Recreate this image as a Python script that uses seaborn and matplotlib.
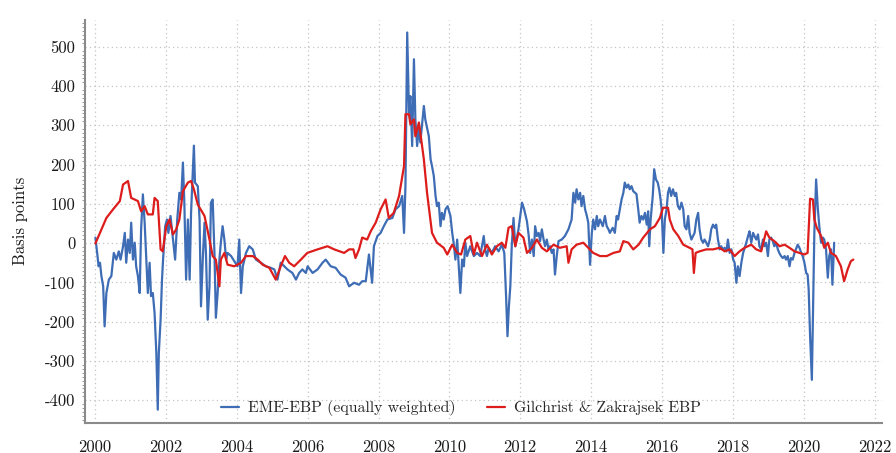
import matplotlib
matplotlib.use("Agg")
import matplotlib.pyplot as plt
import seaborn as sns
import pandas as pd
from matplotlib.ticker import MultipleLocator

# Gilchrist & Zakrajsek EBP (basis points)
red_year = [2000.01, 2000.18, 2000.32, 2000.51, 2000.70, 2000.79, 2000.93, 2001.02, 2001.21, 2001.30,
            2001.40, 2001.49, 2001.63, 2001.68, 2001.77, 2001.85, 2001.91, 2002.01, 2002.10, 2002.20,
            2002.29, 2002.38, 2002.48, 2002.62, 2002.71, 2002.79, 2002.90, 2003.09, 2003.23, 2003.32,
            2003.41, 2003.51, 2003.55, 2003.65, 2003.74, 2003.93, 2004.12, 2004.26, 2004.45, 2004.59,
            2004.73, 2004.92, 2005.10, 2005.24, 2005.36, 2005.48, 2005.62, 2005.81, 2005.99, 2006.28,
            2006.56, 2006.75, 2007.03, 2007.17, 2007.29, 2007.35, 2007.45, 2007.54, 2007.68, 2007.78,
            2007.92, 2008.06, 2008.20, 2008.29, 2008.43, 2008.58, 2008.72, 2008.76, 2008.86, 2008.90,
            2009.00, 2009.04, 2009.14, 2009.18, 2009.28, 2009.37, 2009.51, 2009.65, 2009.84, 2009.94,
            2010.08, 2010.22, 2010.33, 2010.45, 2010.59, 2010.69, 2010.78, 2010.92, 2011.06, 2011.20,
            2011.34, 2011.48, 2011.58, 2011.67, 2011.76, 2011.86, 2011.95, 2012.09, 2012.19, 2012.33,
            2012.47, 2012.61, 2012.75, 2012.94, 2013.12, 2013.31, 2013.36, 2013.45, 2013.59, 2013.78,
            2013.92, 2014.06, 2014.25, 2014.44, 2014.63, 2014.81, 2014.91, 2015.05, 2015.19, 2015.34,
            2015.47, 2015.66, 2015.80, 2015.94, 2016.03, 2016.17, 2016.22, 2016.32, 2016.46, 2016.60,
            2016.78, 2016.86, 2016.90, 2016.95, 2017.06, 2017.25, 2017.44, 2017.63, 2017.77, 2017.91,
            2018.05, 2018.19, 2018.33, 2018.52, 2018.66, 2018.80, 2018.94, 2019.03, 2019.17, 2019.32,
            2019.46, 2019.60, 2019.74, 2019.88, 2020.02, 2020.11, 2020.18, 2020.26, 2020.30, 2020.37,
            2020.49, 2020.58, 2020.68, 2020.77, 2020.91, 2021.05, 2021.14, 2021.24, 2021.33, 2021.40]
red_bp = [-1, 35, 64, 86, 107, 149, 158, 115, 107, 81,
          94, 73, 73, 115, 107, -16, -21, 43, 60, 22,
          35, 60, 132, 154, 158, 137, 98, 69, 9, -33,
          -42, -110, -42, -25, -55, -59, -50, -33, -33, -42,
          -55, -63, -93, -59, -33, -50, -59, -42, -25, -16,
          -8, -16, -25, -16, -16, -38, -16, 14, 9, 30,
          52, 86, 111, 64, 77, 120, 196, 328, 328, 302,
          315, 272, 307, 281, 213, 128, 26, 1, -12, -29,
          -4, -25, -29, 9, 18, -29, 1, -33, -4, -29,
          -8, 1, -12, 39, 43, -8, 26, 14, -25, -12,
          9, -12, -21, -4, -12, -8, -50, -16, -4, 1,
          -12, -25, -33, -33, -25, -21, 5, 1, -16, -4,
          14, 35, 43, 64, 90, 90, 60, 35, 18, -4,
          -12, -16, -76, -25, -21, -16, -16, -12, -21, -16,
          -33, -21, -12, -4, -16, -21, 30, 14, 5, -8,
          -4, -12, -21, -25, -29, -25, 113, 111, 60, 39,
          18, -12, 1, -25, -33, -59, -97, -67, -46, -42]

# EME-EBP (equally weighted)
blue_year = [2000.01, 2000.06, 2000.10, 2000.14, 2000.18, 2000.23, 2000.27, 2000.32, 2000.39, 2000.46,
             2000.53, 2000.60, 2000.67, 2000.72, 2000.79, 2000.84, 2000.88, 2000.93, 2000.98, 2001.02,
             2001.07, 2001.12, 2001.16, 2001.21, 2001.26, 2001.30, 2001.35, 2001.40, 2001.44, 2001.49,
             2001.54, 2001.58, 2001.63, 2001.68, 2001.73, 2001.77, 2001.80, 2001.85, 2001.89, 2001.92,
             2001.98, 2002.03, 2002.07, 2002.13, 2002.20, 2002.26, 2002.32, 2002.38, 2002.43, 2002.48,
             2002.52, 2002.57, 2002.62, 2002.67, 2002.71, 2002.79, 2002.82, 2002.90, 2002.95, 2002.99,
             2003.04, 2003.09, 2003.13, 2003.18, 2003.23, 2003.27, 2003.32, 2003.37, 2003.41, 2003.46,
             2003.51, 2003.55, 2003.60, 2003.65, 2003.70, 2003.74, 2003.84, 2003.93, 2004.02, 2004.07,
             2004.12, 2004.17, 2004.26, 2004.35, 2004.45, 2004.54, 2004.68, 2004.82, 2004.96, 2005.06,
             2005.15, 2005.24, 2005.34, 2005.43, 2005.57, 2005.67, 2005.76, 2005.85, 2005.95, 2006.00,
             2006.14, 2006.28, 2006.42, 2006.51, 2006.65, 2006.79, 2006.93, 2007.07, 2007.17, 2007.31,
             2007.45, 2007.54, 2007.64, 2007.73, 2007.82, 2007.87, 2007.97, 2008.06, 2008.15, 2008.25,
             2008.39, 2008.48, 2008.58, 2008.67, 2008.72, 2008.76, 2008.81, 2008.86, 2008.90, 2008.95,
             2009.00, 2009.04, 2009.09, 2009.14, 2009.18, 2009.28, 2009.32, 2009.42, 2009.47, 2009.51,
             2009.56, 2009.61, 2009.65, 2009.70, 2009.75, 2009.79, 2009.84, 2009.89, 2009.95, 2010.03,
             2010.08, 2010.12, 2010.17, 2010.22, 2010.31, 2010.36, 2010.41, 2010.45, 2010.50, 2010.59,
             2010.69, 2010.78, 2010.87, 2010.97, 2011.01, 2011.06, 2011.11, 2011.20, 2011.29, 2011.39,
             2011.48, 2011.55, 2011.60, 2011.64, 2011.68, 2011.72, 2011.76, 2011.81, 2011.86, 2011.95,
             2012.05, 2012.11, 2012.19, 2012.24, 2012.28, 2012.33, 2012.38, 2012.42, 2012.47, 2012.52,
             2012.56, 2012.61, 2012.66, 2012.70, 2012.75, 2012.80, 2012.84, 2012.89, 2012.94, 2012.98,
             2013.03, 2013.08, 2013.17, 2013.26, 2013.36, 2013.45, 2013.50, 2013.55, 2013.59, 2013.64,
             2013.69, 2013.73, 2013.78, 2013.83, 2013.88, 2013.92, 2013.97, 2014.02, 2014.06, 2014.11,
             2014.16, 2014.20, 2014.25, 2014.33, 2014.39, 2014.44, 2014.49, 2014.53, 2014.61, 2014.67,
             2014.72, 2014.76, 2014.81, 2014.86, 2014.91, 2014.95, 2015.00, 2015.05, 2015.09, 2015.14,
             2015.19, 2015.28, 2015.33, 2015.37, 2015.42, 2015.47, 2015.52, 2015.57, 2015.61, 2015.64,
             2015.68, 2015.74, 2015.78, 2015.83, 2015.88, 2015.92, 2015.96, 2015.99, 2016.04, 2016.08,
             2016.13, 2016.17, 2016.21, 2016.26, 2016.31, 2016.36, 2016.40, 2016.45, 2016.50, 2016.55,
             2016.60, 2016.64, 2016.69, 2016.74, 2016.78, 2016.83, 2016.92, 2016.97, 2017.02, 2017.06,
             2017.11, 2017.16, 2017.20, 2017.25, 2017.30, 2017.35, 2017.39, 2017.44, 2017.49, 2017.53,
             2017.58, 2017.63, 2017.67, 2017.72, 2017.77, 2017.82, 2017.86, 2017.91, 2017.96, 2018.01,
             2018.05, 2018.10, 2018.14, 2018.19, 2018.24, 2018.29, 2018.38, 2018.43, 2018.47, 2018.52,
             2018.57, 2018.61, 2018.66, 2018.71, 2018.75, 2018.80, 2018.85, 2018.89, 2018.94, 2018.99,
             2019.03, 2019.08, 2019.13, 2019.17, 2019.22, 2019.27, 2019.31, 2019.36, 2019.41, 2019.46,
             2019.50, 2019.55, 2019.60, 2019.64, 2019.69, 2019.74, 2019.78, 2019.83, 2019.88, 2019.93,
             2019.97, 2020.02, 2020.07, 2020.11, 2020.14, 2020.18, 2020.23, 2020.26, 2020.30, 2020.35,
             2020.40, 2020.44, 2020.49, 2020.54, 2020.58, 2020.63, 2020.68, 2020.72, 2020.77, 2020.81,
             2020.86]
blue_bp = [14, -25, -59, -50, -84, -110, -212, -127, -93, -84,
           -25, -42, -21, -42, -8, 26, -50, 9, -25, 52,
           -42, 1, -59, -84, -127, 35, 124, 52, -25, -127,
           -50, -135, -127, -178, -280, -424, -280, -195, -93, -42,
           43, 60, 26, 69, 9, -42, 60, 128, 111, 205,
           103, -93, 60, -93, 77, 248, 154, 145, 60, -161,
           -42, 52, -25, -195, -110, 103, 111, -25, -190, -127,
           -42, 1, 43, 9, -42, -25, -33, -46, -59, 9,
           -127, -59, -25, -8, -16, -42, -50, -59, -63, -67,
           -93, -50, -59, -67, -76, -93, -76, -67, -76, -59,
           -76, -67, -50, -42, -59, -63, -80, -88, -110, -101,
           -106, -97, -97, -29, -101, -8, 18, 26, 43, 60,
           64, 86, 94, 120, 26, 145, 536, 332, 374, 247,
           468, 315, 247, 298, 256, 349, 315, 272, 213, 196,
           171, 120, 94, 103, 43, 77, 60, 86, 94, 69,
           26, 1, -42, 9, -127, -42, -59, 1, -33, -8,
           -33, -25, -33, 18, -16, -33, -12, -25, -8, -21,
           -4, -25, -135, -237, -161, -110, -8, 64, -8, 35,
           103, 86, 55, 18, -25, 9, -33, 43, 18, 26,
           5, 35, 9, -8, 9, -16, -8, -25, -16, -80,
           -33, 5, 9, 18, 35, 60, 128, 103, 137, 111,
           128, 94, 120, 86, 69, 52, -55, 26, 60, 35,
           69, 43, 60, 43, 69, 43, 35, 26, 39, 26,
           69, 60, 86, 111, 128, 154, 141, 149, 137, 145,
           132, 125, 86, 52, 69, 60, 77, 47, 81, -8,
           60, 120, 188, 162, 154, 137, 111, 86, -25, 60,
           86, 128, 141, 120, 137, 120, 128, 94, 86, 103,
           86, 43, 35, 69, 26, 9, 26, 60, 77, 35,
           9, 1, 9, 1, -8, 9, 35, 47, 39, 47,
           9, -16, -8, -16, -12, -21, 9, -25, -16, -42,
           -50, -101, -59, -84, -50, -25, 1, 18, 30, 1,
           26, 18, 9, 22, -8, -16, 9, -8, 1, -33,
           9, 14, 5, -8, 1, -16, -25, -33, -38, -33,
           -42, -33, -59, -38, -42, -25, -16, -4, -12, -25,
           -33, -50, -76, -80, -118, -237, -348, -186, 26, 162,
           86, 43, 1, 14, 9, -16, -88, -33, -16, -106,
           1]

y_ticks = [-400, -300, -200, -100, 0, 100, 200, 300, 400, 500]
x_ticks = list(range(2000, 2023, 2))

blue_df = pd.DataFrame({"year": blue_year, "bp": blue_bp})
red_df = pd.DataFrame({"year": red_year, "bp": red_bp})

sns.set_style("white")
plt.rcParams['font.family'] = ['cmr10', 'DejaVu Serif']
plt.rcParams['axes.unicode_minus'] = False
plt.rcParams['axes.formatter.use_mathtext'] = True

fig = plt.figure(figsize=(8.96, 4.53), dpi=100)
ax = fig.add_axes([0.095, 0.067, 0.889, 0.889])

blue = '#3e6db5'
red = '#dd1c1c'
sns.lineplot(data=blue_df, x="year", y="bp", ax=ax, color=blue, linewidth=1.6,
             sort=False, label="EME-EBP (equally weighted)")
sns.lineplot(data=red_df, x="year", y="bp", ax=ax, color=red, linewidth=1.6,
             sort=False, label="Gilchrist & Zakrajsek EBP")

ax.set_xlim(1999.72, 2022.2)
ax.set_ylim(-457, 568)
ax.set_xticks(x_ticks)
ax.set_xticklabels([str(t) for t in x_ticks])
ax.set_yticks(y_ticks)
ax.set_yticklabels([str(t) for t in y_ticks])
ax.yaxis.set_minor_locator(MultipleLocator(10))

ax.grid(True, which='major', linestyle=(0, (1, 2.5)), color='#c4c4c4', linewidth=0.9)
ax.set_axisbelow(True)

for side in ['top', 'right']:
    ax.spines[side].set_visible(False)
for side in ['left', 'bottom']:
    ax.spines[side].set_color('#8a8a8a')
    ax.spines[side].set_linewidth(1.5)

ax.tick_params(axis='x', length=0, pad=12, labelsize=12, labelcolor='#1a1a1a')
ax.tick_params(axis='y', which='major', length=4, width=0.8, color='#8a8a8a', pad=3,
               labelsize=12, labelcolor='#1a1a1a', direction='out')
ax.tick_params(axis='y', which='minor', length=2.5, width=0.6, color='#8a8a8a', direction='out', left=True)

ax.set_xlabel('')
ax.set_ylabel('Basis points', fontsize=12, color='#1a1a1a', labelpad=12)

ax.legend(loc='lower center', bbox_to_anchor=(0.472, -0.02), ncol=2, frameon=False,
          fontsize=11.4, handlelength=1.1, columnspacing=2.0, handletextpad=0.6)

plt.savefig('out.png', dpi=100)
